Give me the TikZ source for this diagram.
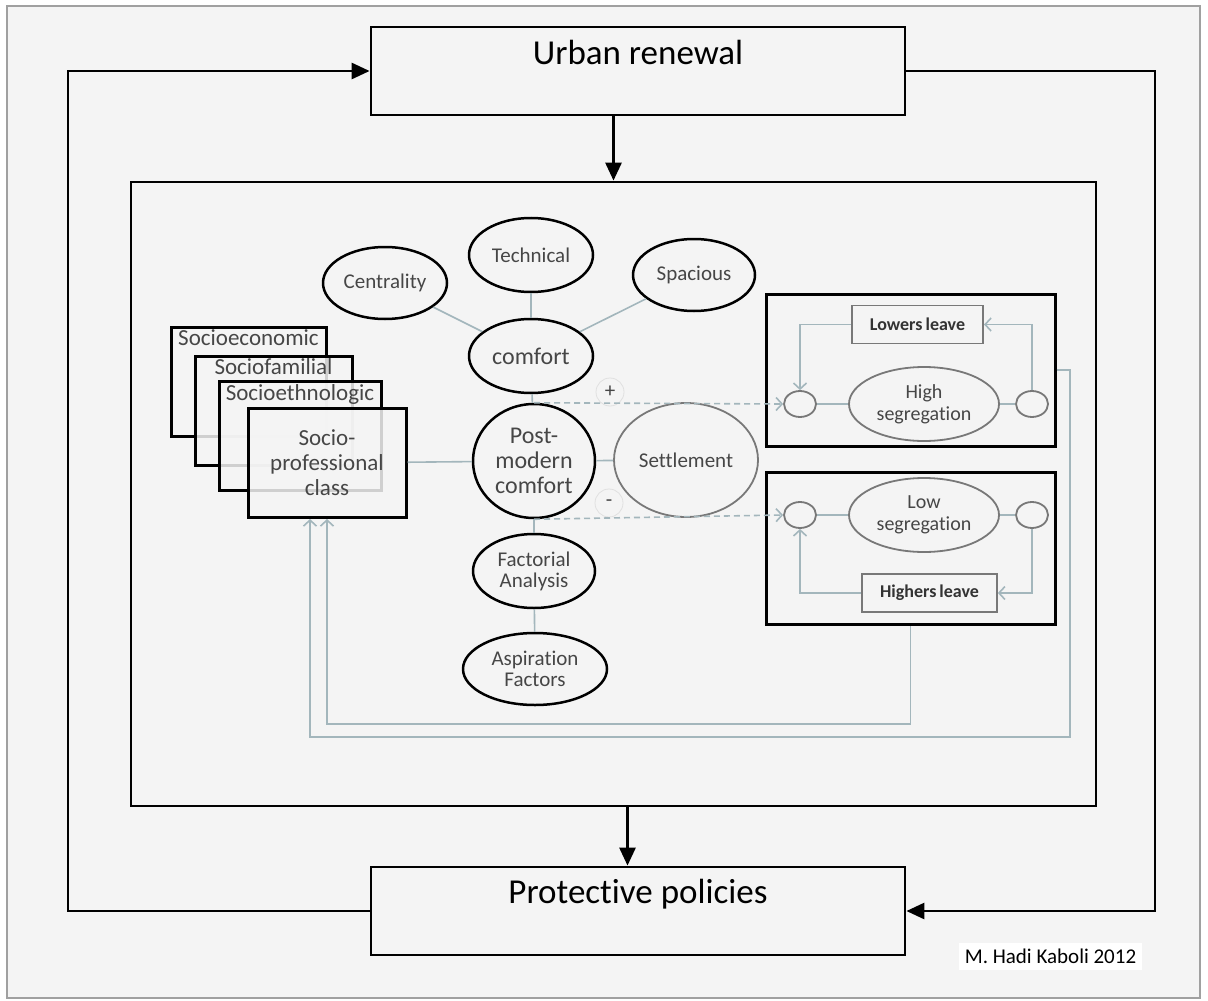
\documentclass[tikz,border=0pt]{standalone}
\usepackage{fontspec}
\setmainfont{Carlito}[Ligatures={NoCommon,NoContextual}]
\usetikzlibrary{arrows.meta,shapes.geometric}
\newcommand{\figureunit}{0.5pt}
\newcommand{\bigfont}{\fontsize{17.5}{20}\selectfont}
\newcommand{\midfont}{\fontsize{12}{12.5}\selectfont}
\newcommand{\sociofont}{\fontsize{11.5}{12.5}\selectfont}
\newcommand{\smallfont}{\fontsize{10.5}{10.5}\selectfont}
\newcommand{\segfont}{\fontsize{10}{11}\selectfont}
\newcommand{\leavefont}{\fontsize{9}{10}\selectfont\bfseries}
\definecolor{paper}{RGB}{244,244,244}
\definecolor{rim}{RGB}{160,160,160}
\definecolor{wire}{RGB}{163,182,188}
\definecolor{ink}{RGB}{70,70,70}
\definecolor{soft}{RGB}{120,120,120}
\tikzset{
	boxframe/.style={draw=black, line width=1.4pt, fill=paper, inner sep=0pt},
	loopline/.style={line width=1.4pt, -{Triangle[length=9pt,width=8pt]}},
	blob/.style={ellipse, draw=black, line width=1.25pt, fill=paper, text=ink, align=center, inner sep=0pt},
	softblob/.style={blob, draw=soft, line width=0.9pt},
	sociobox/.style={boxframe, line width=1.5pt, fill opacity=0.85, text opacity=1, text=ink, minimum height=54.5pt},
	sociolabel/.style={anchor=north, inner sep=2pt, font=\sociofont, text=ink},
	segbox/.style={boxframe, line width=1.5pt, minimum width=144.5pt, minimum height=76pt},
	dot/.style={ellipse, draw=soft, line width=0.9pt, fill=paper, minimum width=16pt, minimum height=13pt, inner sep=0pt},
	leavebox/.style={draw=soft, line width=0.9pt, fill=paper, font=\leavefont, text=black!80, inner xsep=9pt, minimum height=19pt},
	wire/.style={draw=wire, line width=0.8pt},
	wiretip/.style={-{Straight Barb[length=3pt,width=6.5pt]}},
	dashline/.style={wire, densely dashed, wiretip},
	sign/.style={circle, draw=black!12, minimum size=14pt, inner sep=0pt, font=\smallfont, text=ink}
}
\newcommand{\makesegbox}[6]{
	\node[segbox] (#1) at (910.5,#2) {};
	\node[softblob, minimum width=75pt, minimum height=37pt, font=\segfont] (#1seg) at (924,#3) {#4};
	\node[dot] (#1in) at (800,#3) {};
	\node[dot] (#1out) at (1032,#3) {};
	\node[leavebox] (#1leave) at #6 {#5};
	\draw[wire] (#1in) -- (#1seg);
	\draw[wire] (#1seg) -- (#1out);
	\draw[wire, wiretip] (#1out) |- (#1leave.east);
	\draw[wire, wiretip] (#1leave.west) -| (#1in);
}
\begin{document}
\begin{tikzpicture}[x=\figureunit,y=-\figureunit]
	\useasboundingbox (0,0) rectangle (1208,1000);
	\fill[white] (0,0) rectangle (1208,1000);
	\draw[rim, fill=paper, line width=1.2pt] (7,6) rectangle (1200,998);

	\node[boxframe, minimum width=267pt, text height=19pt, text depth=25pt, font=\bigfont] (urban) at (638,71) {Urban renewal};
	\node[boxframe, minimum width=267pt, text height=18pt, text depth=26pt, font=\bigfont] (policies) at (638,911) {Protective policies};
	\node[boxframe, minimum width=482.5pt, minimum height=312pt] (field) at (613.5,494) {};
	\coordinate (leftrun) at (68,500);
	\coordinate (rightrun) at (1155,500);

	\draw[loopline] (policies.west) -| (leftrun) |- (urban.west);
	\draw[loopline] (urban.east) -| (rightrun) |- (policies.east);
	\draw[loopline] (urban.south -| field.north) -- (field.north);
	\draw[loopline] ([xshift=7pt]field.south) -- ([xshift=7pt]field.south |- policies.north);

	\node[sociobox, minimum width=77.5pt, label={[sociolabel]north:Socioeconomic}] (econ) at (248.5,381.5) {};
	\node[sociobox, minimum width=78.5pt, label={[sociolabel]north:Sociofamilial}] (famil) at (273.5,410.5) {};
	\node[sociobox, minimum width=81pt, label={[sociolabel]north:Socioethnologic}] (ethno) at (300,436) {};
	\node[sociobox, minimum width=79pt, align=center, font=\sociofont] (prof) at (327,463) {Socio-\\professional\\class};

	\node[blob, minimum width=62pt, minimum height=36pt, font=\smallfont] (centrality) at (385,283) {Centrality};
	\node[blob, minimum width=62pt, minimum height=37pt, font=\smallfont] (technical) at (531,255) {Technical};
	\node[blob, minimum width=61pt, minimum height=36pt, font=\smallfont] (spacious) at (694,275) {Spacious};
	\node[blob, minimum width=62pt, minimum height=37pt, font=\midfont] (comfort) at (531,356) {comfort};
	\node[blob, minimum width=61pt, minimum height=57pt, font=\midfont] (postmodern) at (534,461) {Post-\\modern\\comfort};
	\node[softblob, minimum width=72pt, minimum height=57pt, font=\smallfont] (settlement) at (686,460) {Settlement};
	\node[blob, minimum width=61pt, minimum height=37pt, font=\smallfont] (factorial) at (534,571) {Factorial\\Analysis};
	\node[blob, minimum width=72pt, minimum height=36pt, font=\smallfont] (aspiration) at (535,669) {Aspiration\\Factors};

	\draw[wire] (centrality) -- (comfort);
	\draw[wire] (technical) -- (comfort);
	\draw[wire] (spacious) -- (comfort);
	\draw[wire] (comfort) -- (postmodern);
	\draw[wire] (prof) -- (postmodern);
	\draw[wire] (postmodern) -- (settlement);
	\draw[wire] (postmodern) -- (factorial);
	\draw[wire] (factorial) -- (aspiration);

	\makesegbox{hi}{370}{404}{High\\segregation}{Lowers\,leave}{(917.5,324.5)}
	\makesegbox{lo}{548.5}{515}{Low\\segregation}{Highers\,leave}{(929.5,593)}

	\node[sign] (plus) at (610,392) {+};
	\node[sign] (minus) at (609,503) {-};
	\draw[dashline] (postmodern.north) -- (hiin.west);
	\draw[dashline] (postmodern.south) -- (loin.west);

	\coordinate (outerturn) at (1070,737);
	\coordinate (innerturn) at (600,724);
	\draw[wire, wiretip] (hi.east) -| (outerturn) -| ([xshift=-8.5pt]prof.south);
	\draw[wire, wiretip] (lo.south) |- (innerturn) -| (prof.south);

	\node[fill=white, inner sep=3pt, font=\fontsize{10.5}{12}\selectfont] (credit) at (1050.5,956.5) {M. Hadi Kaboli 2012};
\end{tikzpicture}
\end{document}
